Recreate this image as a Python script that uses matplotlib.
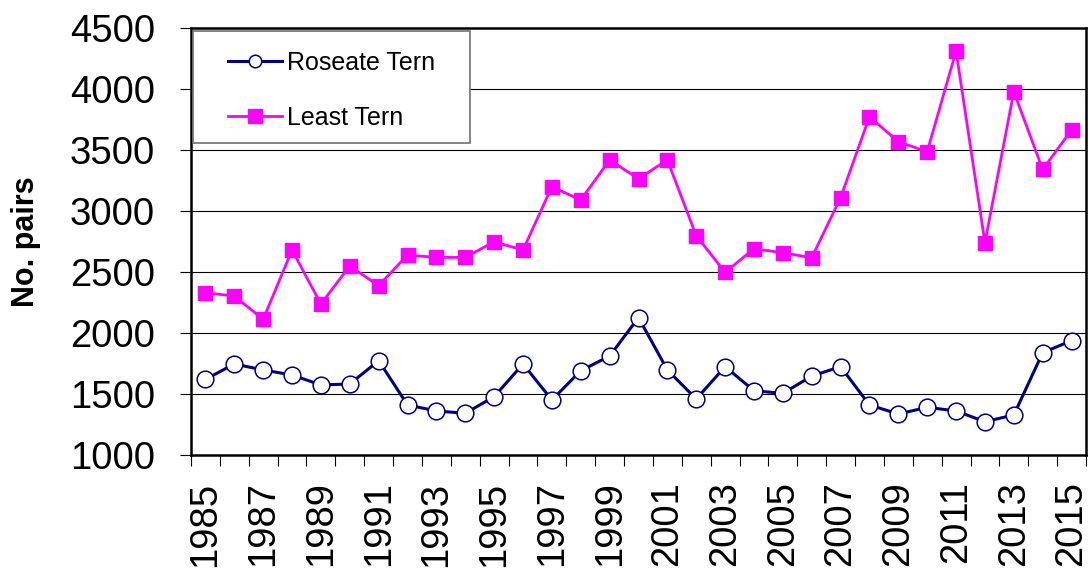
import numpy as np
import matplotlib
matplotlib.use("Agg")
import matplotlib.pyplot as plt
from matplotlib.lines import Line2D
from matplotlib.patches import Rectangle

plt.rcParams['font.family'] = ['Liberation Sans', 'DejaVu Sans']

# survey years and nesting pairs
years = list(range(1985, 2016))
roseate = [1620, 1746, 1697, 1656, 1574, 1582, 1773, 1410, 1361, 1342,
           1478, 1746, 1451, 1691, 1811, 2126, 1697, 1459, 1724, 1527,
           1505, 1647, 1724, 1410, 1336, 1391, 1361, 1273, 1328, 1839,
           1937]
least = [2330, 2303, 2112, 2680, 2238, 2549, 2388, 2639, 2620, 2620,
         2748, 2680, 3199, 3090, 3418, 3265, 3418, 2798, 2497, 2691,
         2658, 2617, 3109, 3773, 3568, 3486, 4311, 2740, 3978, 3341,
         3664]
y_ticks = [1000, 1500, 2000, 2500, 3000, 3500, 4000, 4500]

navy = '#000080'
magenta = '#FF00FF'

fig = plt.figure(figsize=(10.91, 5.69), dpi=100)
ax = fig.add_axes([191/1091, 1 - 455/569, 895/1091, 427/569])

x = np.arange(len(years))
ax.plot(x, roseate, '-', color=navy, lw=2.2, marker='o', ms=12,
        mfc='white', mec=navy, mew=1.1, zorder=3)
ax.plot(x, least, '-', color=magenta, lw=2.0, marker='s', ms=10,
        mfc=magenta, mec=magenta, zorder=3)

ax.set_xlim(-0.5, len(years) - 0.5)
ax.set_ylim(1000, 4500)
ax.set_yticks(y_ticks)
ax.yaxis.grid(True, color='black', lw=0.8)
ax.set_axisbelow(True)

# labels on every other year, tick marks between categories
ax.set_xticks(x[::2])
ax.set_xticklabels([str(y) for y in years[::2]], rotation=90)
ax.set_xticks(np.arange(-0.5, len(years), 1), minor=True)
ax.tick_params(axis='x', which='major', length=0, pad=19, labelsize=27.5)
ax.tick_params(axis='x', which='minor', length=8, width=0.8, direction='out')
ax.tick_params(axis='y', length=8, width=0.8, direction='out', pad=18, labelsize=27.5)

for s in ax.spines.values():
    s.set_linewidth(1.8)
    s.set_color('black')

ax.set_ylabel('No. pairs', fontsize=22, fontweight='bold')
ax.yaxis.set_label_coords(-0.1675, 0.5)

# legend box
ax.add_patch(Rectangle((0.0017, 0.7307), 0.310, 0.2623, transform=ax.transAxes,
                       facecolor='white', edgecolor='#707070', lw=1.2, zorder=4))
handles = [Line2D([], [], color=navy, lw=2.2, marker='o', ms=9, mfc='white', mec=navy, mew=1.1),
           Line2D([], [], color=magenta, lw=2.0, marker='s', ms=10, mfc=magenta, mec=magenta)]
leg = ax.legend(handles, ['Roseate Tern', 'Least Tern'], loc='upper left',
                bbox_to_anchor=(0.0413, 0.946), frameon=False, borderpad=0,
                fontsize=18, labelspacing=1.24, handlelength=2.16,
                handletextpad=0.2, borderaxespad=0)
leg.set_zorder(5)

fig.savefig('out.png', dpi=100)
